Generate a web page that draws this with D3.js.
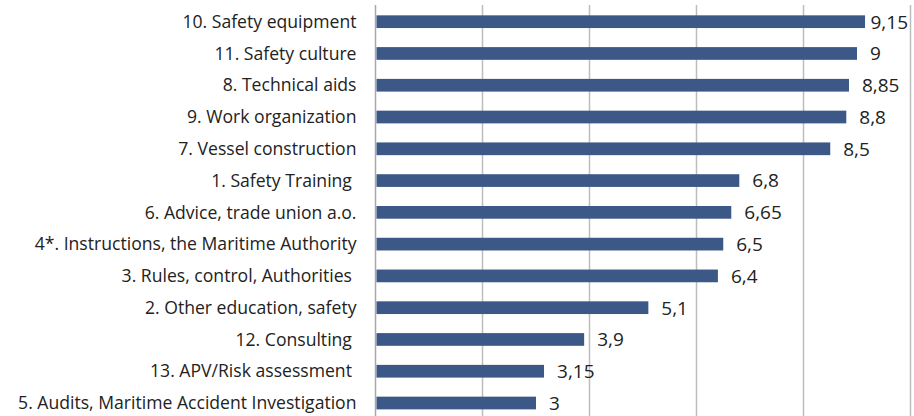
<!DOCTYPE html>
<html lang="en">
<head>
    <meta charset="UTF-8">
    <title>Safety factors</title>
    <script src="https://d3js.org/d3.v7.min.js"></script>
    <style>
        body { margin: 0; background: #fff; }
        .cat-label { font: 17.6px "Open Sans", sans-serif; fill: #222; white-space: pre; }
        .val-label { font: 19px "Open Sans", sans-serif; fill: #222; }
        .grid line { stroke: #bdbdbd; stroke-width: 1.5px; }
        .bar { fill: #3b5886; }
    </style>
</head>
<body>
    <svg width="914" height="416"></svg>

    <script>
        // Data (top to bottom)
        const categories = [
            "10. Safety equipment",
            "11. Safety culture",
            "8. Technical aids",
            "9. Work organization",
            "7. Vessel construction",
            "1. Safety Training ",
            "6. Advice, trade union a.o.",
            "4*. Instructions, the Maritime Authority",
            "3. Rules, control, Authorities ",
            "2. Other education, safety",
            "12. Consulting ",
            "13. APV/Risk assessment ",
            "5. Audits, Maritime Accident Investigation"
        ];
        const values = [9.15, 9, 8.85, 8.8, 8.5, 6.8, 6.65, 6.5, 6.4, 5.1, 3.9, 3.15, 3];
        const gridTicks = [0, 2, 4, 6, 8, 10];

        const data = categories.map((c, i) => ({ cat: c, value: values[i] }));

        const svg = d3.select("svg");
        const W = +svg.attr("width");

        // Scales
        const x = d3.scaleLinear().domain([0, 10]).range([375.5, 910.5]);
        const y = d3.scaleBand()
            .domain(categories)
            .range([5.8, 418.9])
            .paddingInner(0.6)
            .paddingOuter(0.3);

        // Vertical gridlines + axis line
        svg.append("g")
            .attr("class", "grid")
            .selectAll("line")
            .data(gridTicks)
            .enter().append("line")
            .attr("x1", d => x(d))
            .attr("x2", d => x(d))
            .attr("y1", 5)
            .attr("y2", 416)
            .style("stroke", d => d === 0 ? "#a8a8a8" : null);

        // Bars
        svg.selectAll(".bar")
            .data(data)
            .enter().append("rect")
            .attr("class", "bar")
            .attr("x", x(0) + 1)
            .attr("y", d => y(d.cat))
            .attr("width", d => x(d.value) - x(0) - 1)
            .attr("height", y.bandwidth());

        // Category labels
        svg.selectAll(".cat-label")
            .data(data)
            .enter().append("text")
            .attr("class", "cat-label")
            .attr("x", x(0) - 19)
            .attr("y", d => y(d.cat) + y.bandwidth() / 2)
            .attr("dy", "0.35em")
            .attr("text-anchor", "end")
            .text(d => d.cat);

        // Value labels, comma decimal; pushed in if they would run off the edge
        svg.selectAll(".val-label")
            .data(data)
            .enter().append("text")
            .attr("class", "val-label")
            .attr("y", d => y(d.cat) + y.bandwidth() / 2)
            .attr("dy", "0.36em")
            .text(d => String(d.value).replace(".", ","))
            .attr("x", function(d) {
                const w = this.getComputedTextLength();
                return Math.min(x(d.value) + 13, W - 6 - w);
            });
    </script>
</body>
</html>
